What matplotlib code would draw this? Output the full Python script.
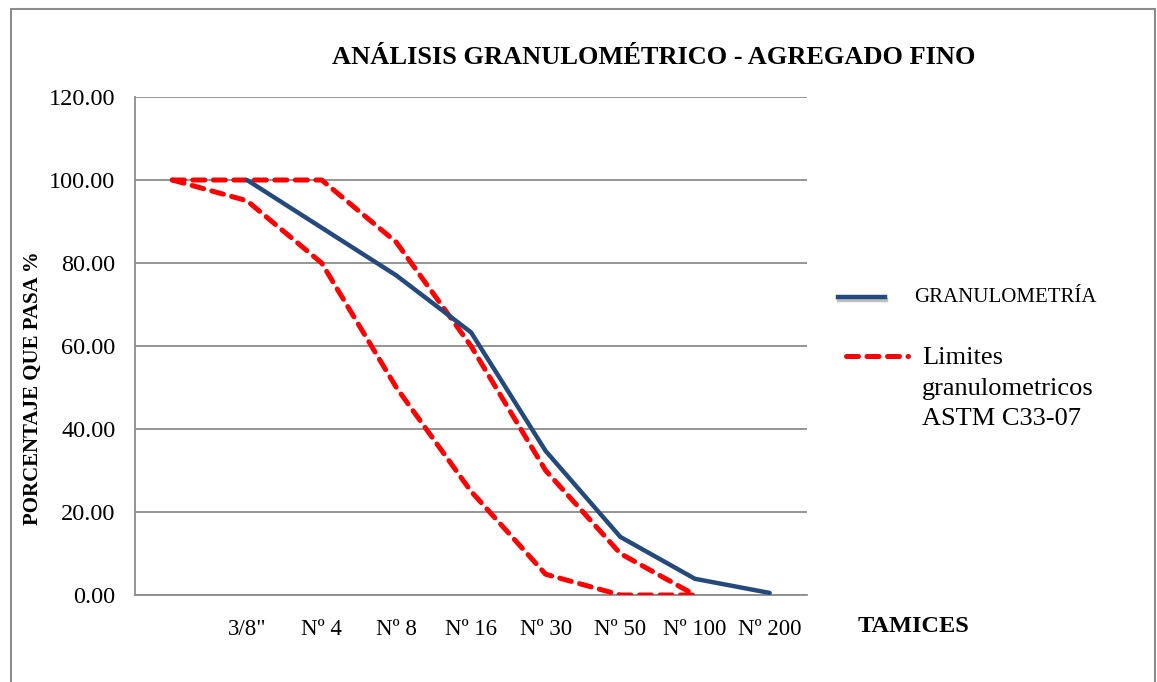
import matplotlib
matplotlib.use("Agg")
import matplotlib.pyplot as plt
from matplotlib.lines import Line2D
from matplotlib.patches import Rectangle
import matplotlib.patheffects as pe

plt.rcParams["font.family"] = ["Liberation Serif", "DejaVu Serif"]

# sieve categories (first one has no label)
tamices = ["", "3/8\"", "Nº 4", "Nº 8", "Nº 16", "Nº 30", "Nº 50", "Nº 100", "Nº 200"]

# % passing, sample curve starts at 3/8"
granulometria = [None, 100.0, 88.5, 77.0, 63.3, 34.7, 14.0, 3.9, 0.5]
# ASTM C33-07 limits
limite_sup = [100, 100, 100, 85, 60, 30, 10, 0]
limite_inf = [100, 95, 80, 50, 25, 5, 0, 0]

azul = "#24497C"
rojo = "#FF0000"
gris = "#8C8C8C"

W, H = 1157, 682
fig = plt.figure(figsize=(W / 100, H / 100), dpi=100)

# outer chart frame
fig.add_artist(Rectangle((11 / W, -0.05), (1155 - 11) / W, 1.05 - 9 / H,
                         transform=fig.transFigure, fill=False,
                         edgecolor=gris, linewidth=1.5))

ax = fig.add_axes([135 / W, (H - 595) / H, (807 - 135) / W, (595 - 97) / H])

xs_g = [i for i, v in enumerate(granulometria) if v is not None]
ys_g = [v for v in granulometria if v is not None]

ax.plot(range(len(limite_sup)), limite_sup, color=rojo, lw=3.6,
        dashes=(2.4, 1.7), dash_capstyle="round", solid_joinstyle="round", zorder=3)
ax.plot(range(len(limite_inf)), limite_inf, color=rojo, lw=3.6,
        dashes=(2.4, 1.7), dash_capstyle="round", solid_joinstyle="round", zorder=3)
ax.plot(xs_g, ys_g, color=azul, lw=3.2, solid_capstyle="round", zorder=4)

ax.set_xlim(-0.5, len(tamices) - 0.5)
ax.set_ylim(0, 120)
ax.set_yticks(range(0, 121, 20))
ax.set_yticklabels([f"{v:.2f}" for v in range(0, 121, 20)])
ax.set_xticks(range(len(tamices)))
ax.set_xticklabels(tamices)
ax.tick_params(axis="x", length=0, labelsize=16.5, pad=17)
ax.tick_params(axis="y", length=0, labelsize=17.5, pad=14)
ax.yaxis.grid(True, color=gris, lw=1.3)
ax.set_axisbelow(True)
for s in ["top", "right"]:
    ax.spines[s].set_visible(False)
for s in ["left", "bottom"]:
    ax.spines[s].set_color(gris)
    ax.spines[s].set_linewidth(1.3)

fig.text(33 / W, 1 - 388 / H, "PORCENTAJE QUE PASA %", rotation=90,
         ha="center", va="center", fontsize=15, fontweight="bold")
fig.text(654 / W, 1 - 58 / H, "ANÁLISIS GRANULOMÉTRICO - AGREGADO FINO",
         ha="center", va="center", fontsize=19, fontweight="bold")
fig.text(913 / W, 1 - 627 / H, "TAMICES", ha="center", va="center",
         fontsize=17.5, fontweight="bold")

# legend
fig.add_artist(Line2D([838 / W, 885 / W], [1 - 297 / H] * 2, transform=fig.transFigure,
                      color=azul, lw=3.2,
                      path_effects=[pe.SimpleLineShadow(offset=(1, -2), alpha=0.25), pe.Normal()]))
fig.text(914 / W, 1 - 297 / H, "GRANULOMETRÍA", ha="left", va="center", fontsize=15)
fig.add_artist(Line2D([846 / W, 908 / W], [1 - 356 / H] * 2, transform=fig.transFigure,
                      color=rojo, lw=3.6, dashes=(2.4, 1.7), dash_capstyle="round"))
fig.text(922 / W, 1 - 347 / H, "Limites\ngranulometricos\nASTM C33-07", ha="left", va="top",
         fontsize=19, linespacing=1.5)

fig.savefig("out.png", dpi=100)
